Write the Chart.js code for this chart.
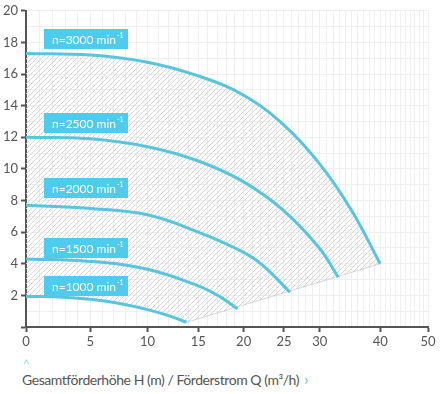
<!DOCTYPE html>
<html>
<head>
<meta charset="utf-8">
<script src="https://cdn.jsdelivr.net/npm/chart.js@4.4.1/dist/chart.umd.min.js"></script>
<style>
    body { margin: 0; background: #fff; font-family: Lato, sans-serif; }
    #wrap { position: relative; width: 440px; height: 352px; }
    .caret { position: absolute; left: 23px; top: 357px; color: #7fd3e8; font-size: 11px; }
    .caption { position: absolute; left: 22px; top: 369px; font-size: 14px; letter-spacing: -0.45px; color: #555; white-space: nowrap; }
    .caption span { color: #5bc5dc; font-size: 16px; margin-left: 5px; }
</style>
</head>
<body>
<div id="wrap"><canvas id="pumpChart"></canvas></div>
<div class="caret">^</div>
<div class="caption">Gesamtförderhöhe H (m) / Förderstrom Q (m³/h)<span>›</span></div>
<script>
// pump curves per speed: Q (m3/h) and H (m)
var speeds = ['3000', '2500', '2000', '1500', '1000'];

var q3000 = [0, 5, 10, 15, 20, 25, 30, 35, 40];
var h3000 = [17.3, 17.2, 16.75, 15.88, 14.66, 12.77, 10.3, 7.35, 4.0];

var q2500 = [0, 5, 10, 15, 20, 25, 30, 32.8];
var h2500 = [12.0, 11.9, 11.4, 10.5, 9.18, 7.35, 4.95, 3.15];

var q2000 = [0, 5, 10, 15, 20, 22.3, 25.8];
var h2000 = [7.7, 7.5, 7.1, 6.0, 4.72, 3.9, 2.2];

var q1500 = [0, 5, 10, 15, 17.3, 19.3];
var h1500 = [4.3, 4.15, 3.65, 2.6, 1.92, 1.15];

var q1000 = [0, 2.5, 5, 7.5, 10, 12, 13.8];
var h1000 = [1.93, 1.9, 1.75, 1.48, 1.1, 0.72, 0.3];

var xTickLabels = [0, 5, 10, 15, 20, 25, 30, 40, 50];
var xMajorGrid = [0, 5, 10, 15, 20, 25, 30, 35, 40, 50];

var curveColor = '#58c5de';
var boxColor = '#4fcbee';

// the flow axis is compressed towards the right
var R = 0.89;
function warp(v) { return 1 - Math.pow(R, v / 5); }
function unwarp(t) { return 5 * Math.log(1 - t) / Math.log(R); }

class FlowScale extends Chart.LinearScale {
    getPixelForValue(value) {
        if (value === null || value === undefined || isNaN(value)) return NaN;
        var a = warp(this.min), b = warp(this.max);
        return this.getPixelForDecimal((warp(value) - a) / (b - a));
    }
    getValueForPixel(pixel) {
        var a = warp(this.min), b = warp(this.max);
        return unwarp(a + this.getDecimalForPixel(pixel) * (b - a));
    }
}
FlowScale.id = 'flow';
FlowScale.defaults = Chart.LinearScale.defaults;
Chart.register(FlowScale);

function points(qs, hs) {
    return qs.map(function(q, i) { return { x: q, y: hs[i] }; });
}

function hatchPattern(ctx) {
    var c = document.createElement('canvas');
    c.width = 5; c.height = 5;
    var g = c.getContext('2d');
    g.strokeStyle = '#d6d6d6';
    g.lineWidth = 1;
    g.beginPath();
    g.moveTo(0, 5); g.lineTo(5, 0);
    g.moveTo(-1, 1); g.lineTo(1, -1);
    g.moveTo(4, 6); g.lineTo(6, 4);
    g.stroke();
    return ctx.createPattern(c, 'repeat');
}

var curveSets = [
    [q3000, h3000], [q2500, h2500], [q2000, h2000], [q1500, h1500], [q1000, h1000]
].map(function(c, i) {
    return {
        label: 'n=' + speeds[i],
        data: points(c[0], c[1]),
        borderColor: curveColor,
        borderWidth: 3,
        pointRadius: 0,
        fill: false,
        tension: 0.4
    };
});

// hatched operating range between the top and bottom speed curves
var rangeHatch = {
    id: 'rangeHatch',
    beforeDatasetsDraw: function(chart) {
        var ctx = chart.ctx, area = chart.chartArea;
        var top = chart.getDatasetMeta(0).dataset;
        var low = chart.getDatasetMeta(speeds.length - 1).dataset;
        top.updateControlPoints(area, 'x');
        low.updateControlPoints(area, 'x');
        var tEnd = top.points[top.points.length - 1];
        var lEnd = low.points[low.points.length - 1];
        var bottom = chart.scales.y.bottom;
        ctx.save();
        ctx.beginPath();
        top.path(ctx);
        ctx.lineTo(tEnd.x, bottom);
        ctx.lineTo(area.left, bottom);
        ctx.closePath();
        low.path(ctx);
        ctx.lineTo(tEnd.x, tEnd.y);
        ctx.lineTo(tEnd.x, bottom);
        ctx.lineTo(area.left, bottom);
        ctx.closePath();
        ctx.fillStyle = hatchPattern(ctx);
        ctx.fill('evenodd');
        ctx.beginPath();
        ctx.moveTo(lEnd.x, lEnd.y);
        ctx.lineTo(tEnd.x, tEnd.y);
        ctx.strokeStyle = 'rgba(205, 205, 205, 0.8)';
        ctx.lineWidth = 1;
        ctx.stroke();
        ctx.restore();
    }
};

var speedLabels = {
    id: 'speedLabels',
    afterDatasetsDraw: function(chart, args, opts) {
        var ctx = chart.ctx;
        var xs = chart.scales.x, ys = chart.scales.y;
        ctx.save();
        speeds.forEach(function(s, i) {
            var left = Math.round(xs.getPixelForValue(opts.q));
            var cy = Math.round(ys.getPixelForValue(opts.h[i]));
            ctx.fillStyle = boxColor;
            ctx.fillRect(left, cy - 10, 84, 20);
            ctx.fillStyle = '#fff';
            ctx.textBaseline = 'alphabetic';
            ctx.font = '12px Lato';
            var txt = 'n=' + s + ' min';
            ctx.fillText(txt, left + 8, cy + 4.5);
            var w = ctx.measureText(txt).width;
            ctx.font = '7px Lato';
            ctx.fillText('-1', left + 9 + w, cy - 1);
        });
        ctx.restore();
    }
};

var ctx = document.getElementById('pumpChart').getContext('2d');
var pumpChart = new Chart(ctx, {
    type: 'line',
    data: { datasets: curveSets },
    options: {
        responsive: true,
        maintainAspectRatio: false,
        animation: false,
        layout: { autoPadding: false, padding: { left: 0, right: 12, top: 8, bottom: 0 } },
        plugins: {
            legend: { display: false },
            tooltip: { enabled: false },
            speedLabels: { q: 1.35, h: [18.2, 12.9, 8.8, 5.0, 2.6] }
        },
        scales: {
            x: {
                type: 'flow',
                position: 'bottom',
                min: 0,
                max: 50,
                afterBuildTicks: function(scale) {
                    scale.ticks = xMajorGrid.map(function(v) { return { value: v }; });
                },
                afterFit: function(scale) { scale.height = 25; },
                ticks: {
                    autoSkip: false,
                    maxRotation: 0,
                    padding: 2,
                    color: '#555',
                    font: { family: 'Lato', size: 13 },
                    callback: function(v) { return xTickLabels.indexOf(v) >= 0 ? String(v) : ''; }
                },
                grid: {
                    color: '#d6d6d6',
                    tickColor: function(c) {
                        return c.tick && xTickLabels.indexOf(c.tick.value) < 0 ? 'rgba(0,0,0,0)' : '#555';
                    },
                    tickLength: 5,
                    tickWidth: 2
                },
                border: { color: '#555', width: 2 }
            },
            x2: {
                type: 'flow',
                position: 'top',
                min: 0,
                max: 50,
                z: -1,
                afterFit: function(scale) { scale.height = 0; },
                ticks: { display: false, stepSize: 1 },
                grid: { color: '#efefef', drawTicks: false },
                border: { display: false }
            },
            y: {
                min: 0,
                max: 20,
                afterFit: function(scale) { scale.width = 26; },
                ticks: {
                    stepSize: 2,
                    padding: 3,
                    color: '#555',
                    font: { family: 'Lato', size: 13 },
                    callback: function(v) { return v === 0 ? '' : v; }
                },
                grid: { color: '#d6d6d6', tickColor: '#555', tickLength: 5, tickWidth: 2 },
                border: { color: '#555', width: 2 }
            },
            y2: {
                position: 'right',
                min: 0,
                max: 20,
                z: -1,
                afterFit: function(scale) { scale.width = 0; },
                ticks: { display: false, stepSize: 1 },
                grid: { color: '#efefef', drawTicks: false },
                border: { display: false }
            }
        }
    },
    plugins: [rangeHatch, speedLabels]
});
</script>
</body>
</html>
